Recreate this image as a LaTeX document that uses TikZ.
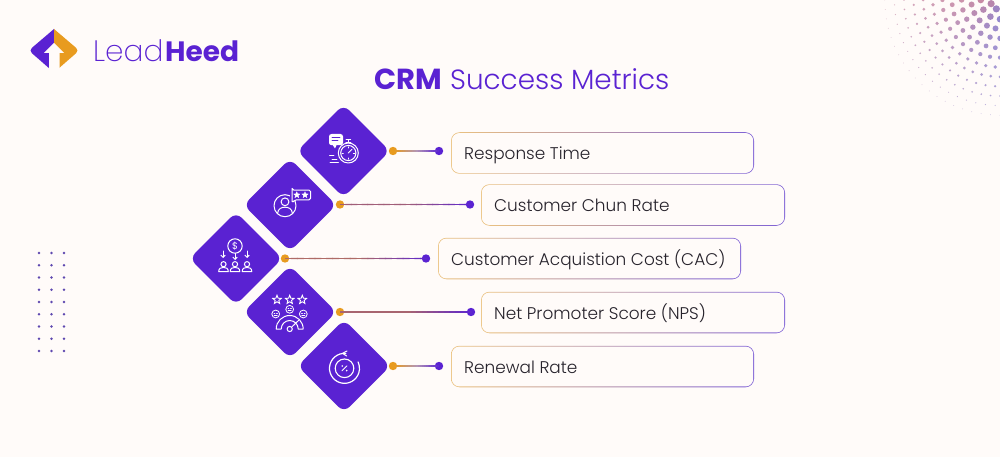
\documentclass[tikz,border=0pt]{standalone}
\usepackage{fontspec}
\setmainfont{Poppins}[UprightFont=* Light,BoldFont=* SemiBold]
\newfontfamily\regfont{Poppins}
\newfontfamily\thinfont{Poppins}[UprightFont=* ExtraLight]
\newfontfamily\boldfont{Poppins}[UprightFont=* Bold]
\usetikzlibrary{shapes.geometric,calc,arrows.meta}
\definecolor{bgc}{HTML}{FFFBF9}
\definecolor{brandp}{HTML}{5A22D2}
\definecolor{brando}{HTML}{E89B1F}
\definecolor{edgeo}{HTML}{EBC27F}
\definecolor{edgep}{HTML}{7F62D6}
\definecolor{midline}{HTML}{B395B5}
\definecolor{inkc}{HTML}{26222B}
\definecolor{dotc}{HTML}{5E48B0}
\definecolor{halfpink}{HTML}{C4829F}
\definecolor{halfblue}{HTML}{8D7FCB}
\tikzset{
  x=1pt,y=-1pt,
  tile/.style={diamond,aspect=1,fill=brandp,minimum width=93pt,minimum height=93pt,inner sep=0pt,rounded corners=8pt},
  dotO/.style={circle,fill=brando,minimum size=8.4pt,inner sep=0pt},
  dotP/.style={circle,fill=brandp,minimum size=8.4pt,inner sep=0pt},
  edgebox/.style={rectangle,rounded corners=8.5pt,left color=edgeo,right color=edgep,minimum height=41.5pt,inner sep=0pt},
  labeltext/.style={anchor=base west,inner sep=0pt,text=inkc,font=\fontsize{16.9}{20}\selectfont},
  ic/.style={draw=white,line width=1pt,line cap=round,line join=round},
  icstar/.style={star,star points=5,star point ratio=2.3,draw=white,line width=0.9pt,minimum size=9pt,inner sep=0pt},
}
% colour-graded connector: short straight pieces from node to node
\newcommand{\gradlink}[4]{% from, to, thickness, mid colour
  \draw[line width=#3pt,#4] (#1) -- (#2);
  \foreach \s in {0,...,23}{
    \pgfmathsetmacro{\sa}{\s/24}
    \pgfmathsetmacro{\sb}{(\s+1.2)/24}
    \pgfmathsetmacro{\pa}{max(0,100-200*\sa)}
    \pgfmathsetmacro{\pb}{max(0,200*\sa-100)}
    \ifnum\s<12
      \draw[line width=#3pt,color=brando!\pa!#4] ($(#1)!\sa!(#2)$) -- ($(#1)!\sb!(#2)$);
    \else
      \draw[line width=#3pt,color=brandp!\pb!#4] ($(#1)!\sa!(#2)$) -- ($(#1)!\sb!(#2)$);
    \fi
  }
}
\newcommand{\metricbox}[5]{% name, centre x, centre y, width, text
  \node[edgebox,minimum width=#4pt] (#1) at (#2,#3) {};
  \fill[bgc,rounded corners=7.6pt] ($(#1.south west)+(1,-1)$) rectangle ($(#1.north east)+(-1,1)$);
  \node[labeltext] (#1t) at (#2-#4/2+13,#3+6.6) {#5};
}
\begin{document}
\begin{tikzpicture}
\useasboundingbox (0,0) rectangle (1000,457);
\fill[bgc] (0,0) rectangle (1000,457);

% halftone
\begin{scope}
\clip (0,0) rectangle (1000,457);
\foreach \i in {1,...,12}{
  \pgfmathsetmacro{\rad}{\i*9.6}
  \pgfmathtruncatemacro{\nn}{max(2,round(\rad*1.5708/9.6))}
  \foreach \k in {0,...,\nn}{
    \pgfmathsetmacro{\ang}{(\k+0.5*mod(\i,2))/\nn*90}
    \pgfmathsetmacro{\dx}{1000-\rad*cos(\ang)}
    \pgfmathsetmacro{\dy}{\rad*sin(\ang)}
    \pgfmathsetmacro{\dr}{max(0.4,3.9*(1-\rad/125))}
    \pgfmathsetmacro{\mixv}{100*(1-\ang/90)}
    \pgfmathsetmacro{\fadev}{max(45,100-0.35*\rad)}
    \fill[fill=halfpink!\mixv!halfblue,fill opacity=\fadev/100] (\dx,\dy) circle[radius=\dr pt];
  }
}
\end{scope}

% dot matrix
\foreach \c in {39,51.5,64}{
  \foreach \r in {0,...,8}{
    \fill[dotc] (\c,253+\r*12.25) circle[radius=1.35pt];
  }
}

% logo
\fill[brandp] (54,29) [rounded corners=4pt] -- (28.8,50.5) [sharp corners] -- (54,72.5) -- cycle;
\fill[brando] (54,29) [rounded corners=4pt] -- (79.2,50.5) [sharp corners] -- (54,72.5) -- cycle;
\fill[bgc] (54,43) -- (64,53) -- (59.5,53) -- (59.5,73) -- (49,73) -- (49,53) -- (44,53) -- cycle;
\node[anchor=base west,inner sep=0pt,text=brandp,font=\fontsize{29.5}{32}\thinfont] (leadword) at (93,61.5) {Lead};
\node[anchor=base west,inner sep=0pt,text=brandp,font=\fontsize{28}{32}\boldfont] (heedword) at (165,61.5) {Heed};

% title
\node[anchor=base west,inner sep=0pt,text=brandp,font=\fontsize{29}{32}\boldfont] (titleA) at (374,89.5) {CRM};
\node[anchor=base west,inner sep=0pt,text=brandp,font=\fontsize{27.8}{32}\selectfont] (titleB) at (450,89.5) {Success Metrics};

% tiles
\node[tile] (d1) at (343.5,151) {};
\node[tile] (d2) at (290,205) {};
\node[tile] (d3) at (236,258.5) {};
\node[tile] (d4) at (290,312) {};
\node[tile] (d5) at (344,366) {};

% boxes
\metricbox{b1}{602.5}{153}{303}{Response Time}
\metricbox{b2}{633}{205}{304}{Customer Chun Rate}
\metricbox{b3}{589.5}{258.5}{303}{Customer Acquistion Cost (CAC)}
\metricbox{b4}{633}{312.5}{304}{Net Promoter Score (NPS)}
\metricbox{b5}{602.5}{366.5}{303}{Renewal Rate}

% connectors
\node[dotO] (o1) at (393,151) {}; \node[dotP] (p1) at (439,151) {};
\node[dotO] (o2) at (340,204.5) {}; \node[dotP] (p2) at (470,204.5) {};
\node[dotO] (o3) at (285,258.5) {}; \node[dotP] (p3) at (426,258.5) {};
\node[dotO] (o4) at (340,312) {}; \node[dotP] (p4) at (471,312) {};
\node[dotO] (o5) at (393,366) {}; \node[dotP] (p5) at (439,366) {};
\gradlink{o1}{p1}{1.5}{midline}
\gradlink{o2}{p2}{1.1}{brando!50!brandp}
\gradlink{o3}{p3}{1.1}{brando!60!brandp}
\gradlink{o4}{p4}{1.1}{brando!55!brandp}
\gradlink{o5}{p5}{1.5}{midline}

% icon 1: stopwatch
\draw[ic] (348.3,153) circle[radius=10pt];
\draw[ic] (348.3,153) circle[radius=7.6pt];
\draw[ic] (345.8,142.2) -- (350.8,142.2) (348.3,142.2) -- (348.3,140.2) (346,139.6) -- (350.6,139.6);
\draw[ic,line width=0.9pt] (348.3,153) -- (352,149.3);
\draw[ic,line width=0.6pt] (348.3,146.7) -- (348.3,148.1) (348.3,159.3) -- (348.3,157.9) (342,153) -- (343.4,153) (354.6,153) -- (353.2,153);
\fill[white,rounded corners=2.5pt] (329,134) rectangle (343,145.2);
\fill[white] (332,144) -- (337,144) -- (335,148.5) -- cycle;
\draw[brandp,line width=0.8pt,line cap=round] (332,137.4) -- (340,137.4) (332,140.4) -- (338,140.4);
\draw[ic,line width=0.7pt] (329.5,155.5) -- (334,155.5) (332,159) -- (337,159) (330,162.3) -- (338.5,162.3);

% icon 2: person and review bubble
\draw[ic] (285,205.7) circle[radius=11pt];
\draw[ic] (285,201.8) circle[radius=3.9pt];
\draw[ic] (277.5,213.6) .. controls (278,208.2) and (282,207.2) .. (285,207.2) .. controls (288,207.2) and (292,208.2) .. (292.5,213.6);
\fill[brandp] (290,189) rectangle (311.8,201.2);
\draw[ic,rounded corners=1.6pt] (292,190) -- (310.6,190) -- (310.6,199.8) -- (295,199.8) -- (292,203) -- (292,190) -- cycle;
\node[icstar,minimum size=6.4pt,fill=white,line width=0.4pt] (s21) at (296.8,195) {};
\node[icstar,minimum size=6.4pt,fill=white,line width=0.4pt] (s22) at (305,195) {};

% icon 3: dollar and people
\draw[ic] (235,246) circle[radius=7.2pt];
\node[inner sep=0pt,text=white,font=\fontsize{9.5}{9.5}\regfont] (dollar) at (235,246) {\$};
\foreach \xx in {223,247}{
  \draw[ic,-{Straight Barb[length=2.2pt,width=4.4pt]}] (\xx,251) -- (\xx,258);
}
\draw[ic,-{Straight Barb[length=2.2pt,width=4.4pt]}] (235,253.5) -- (235,260);
\foreach \xx in {223.5,235,247}{
  \draw[ic] (\xx,264.2) circle[radius=2.6pt];
  \draw[ic] (\xx-4.8,271.6) -- (\xx+4.8,271.6) .. controls (\xx+4.8,268.2) and (\xx+2.5,267.4) .. (\xx,267.4) .. controls (\xx-2.5,267.4) and (\xx-4.8,268.2) .. (\xx-4.8,271.6) -- cycle;
}

% icon 4: stars, faces, gauge
\node[icstar] (s41) at (277,299.8) {};
\node[icstar] (s42) at (289.7,299.8) {};
\node[icstar] (s43) at (302.3,299.8) {};
\foreach \xx/\yy in {275.7/314,289.7/309.3,303.3/314}{
  \draw[ic,line width=0.8pt] (\xx,\yy) circle[radius=3.9pt];
  \draw[ic,line width=0.6pt] (\xx-1.8,\yy-1) -- (\xx-0.8,\yy-1) (\xx+0.8,\yy-1) -- (\xx+1.8,\yy-1) (\xx-1.6,\yy+1.4) -- (\xx+1.6,\yy+1.4);
}
\draw[ic] (276.2,329) arc[start angle=180,end angle=0,radius=13.5pt] -- (298.2,329) arc[start angle=0,end angle=180,radius=8.5pt] -- cycle;
\draw[ic] (291.5,327.2) -- (298.5,320.5);
\fill[brandp] (289.7,329) circle[radius=3pt];
\draw[ic] (289.7,329) circle[radius=2.6pt];

% icon 5: renewal
\draw[ic,line width=1.2pt] (345.8,353.4) arc[start angle=85,end angle=385,radius=15pt];
\draw[ic,line width=1.1pt] (344.5,368.3) circle[radius=9.3pt];
\draw[ic,line width=1pt] (347,351) -- (342.6,353.3) -- (346.6,356);
\draw[ic,line width=0.8pt] (347,365.8) -- (342,370.8);
\fill[white] (342.3,366) circle[radius=0.9pt] (346.7,370.6) circle[radius=0.9pt];
\end{tikzpicture}
\end{document}
